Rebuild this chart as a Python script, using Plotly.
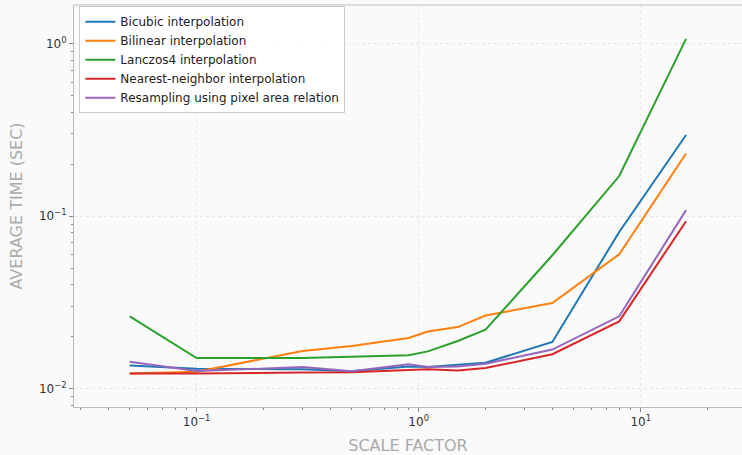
import plotly.graph_objects as go

scale = [0.05, 0.1, 0.3, 0.5, 0.9, 1.1, 1.5, 2, 4, 8, 16]

bicubic = [0.0136, 0.0130, 0.0129, 0.01256, 0.01342, 0.0133, 0.01374, 0.0141, 0.0186, 0.081, 0.296]
bilinear = [0.0122, 0.0125, 0.01648, 0.0176, 0.0196, 0.0214, 0.0227, 0.0265, 0.0313, 0.0601, 0.231]
lanczos = [0.0262, 0.0150, 0.0150, 0.0152, 0.01556, 0.0164, 0.01884, 0.0219, 0.0593, 0.171, 1.07]
nearest = [0.01222, 0.01222, 0.01235, 0.0124, 0.0128, 0.0129, 0.0127, 0.01312, 0.0158, 0.0245, 0.0935]
area = [0.01428, 0.0126, 0.0133, 0.01256, 0.01379, 0.0133, 0.01342, 0.01391, 0.0168, 0.0262, 0.1084]

series = [
    ("Bicubic interpolation", bicubic, "#1f77b4"),
    ("Bilinear interpolation", bilinear, "#ff7f0e"),
    ("Lanczos4 interpolation", lanczos, "#2ca02c"),
    ("Nearest-neighbor interpolation", nearest, "#d62728"),
    ("Resampling using pixel area relation", area, "#9467bd"),
]

x_ticks = [0.1, 1, 10]
x_ticktext = ["10<sup>−1</sup>", "10<sup>0</sup>", "10<sup>1</sup>"]
y_ticks = [0.01, 0.1, 1]
y_ticktext = ["10<sup>−2</sup>", "10<sup>−1</sup>", "10<sup>0</sup>"]
x_minor = [k * 0.01 for k in range(3, 10)] + [k * 0.1 for k in range(2, 10)] + list(range(2, 10)) + [20]
y_minor = [k * 0.001 for k in range(8, 10)] + [k * 0.01 for k in range(2, 10)] + [k * 0.1 for k in range(2, 10)]

fig = go.Figure()
for name, vals, col in series:
    fig.add_trace(go.Scatter(x=scale, y=vals, mode="lines", name=name,
                             line=dict(color=col, width=2)))

axis_common = dict(
    type="log",
    automargin=False,
    showline=True, linecolor="#bbbbbb", linewidth=1,
    ticks="outside", ticklen=4, tickcolor="#888888", tickwidth=1,
    showgrid=True, gridcolor="#e6e6e6", griddash="3px,3px", gridwidth=1,
    zeroline=False,
    tickfont=dict(family="DejaVu Sans", size=12, color="#333333"),
)

fig.update_layout(
    width=742, height=455,
    margin=dict(l=74, r=0, t=5, b=48),
    paper_bgcolor="#fafafa", plot_bgcolor="#fafafa",
    font=dict(family="DejaVu Sans", size=12, color="#222222"),
    showlegend=True,
    hovermode=False,
    legend=dict(
        x=0.008, y=0.997, xanchor="left", yanchor="top",
        bgcolor="rgba(255,255,255,0.85)", bordercolor="#cccccc", borderwidth=1,
        font=dict(family="DejaVu Sans", size=12, color="#222222"),
        itemwidth=30, tracegroupgap=0,
    ),
    xaxis=dict(axis_common, range=[-1.552, 1.456],
               tickvals=x_ticks, ticktext=x_ticktext,
               minor=dict(tickvals=x_minor, ticks="outside", ticklen=2, tickcolor="#888888", showgrid=False),
               title=dict(text="SCALE FACTOR", font=dict(family="DejaVu Sans", size=16, color="#aaaaaa"), standoff=13)),
    yaxis=dict(axis_common, range=[-2.108, 0.226],
               tickvals=y_ticks, ticktext=y_ticktext,
               minor=dict(tickvals=y_minor, ticks="outside", ticklen=2, tickcolor="#888888", showgrid=False),
               title=dict(text="AVERAGE TIME (SEC)", font=dict(family="DejaVu Sans", size=16, color="#aaaaaa"), standoff=12)),
    shapes=[dict(type="line", xref="paper", yref="paper", x0=0, x1=1, y0=1, y1=1,
                 line=dict(color="#dddddd", width=2))],
)

fig.write_html("out.html",
               config={"displayModeBar": False, "staticPlot": True},
               post_script="document.body.style.margin='0';document.body.style.overflow='hidden';document.body.style.background='#fafafa';")
